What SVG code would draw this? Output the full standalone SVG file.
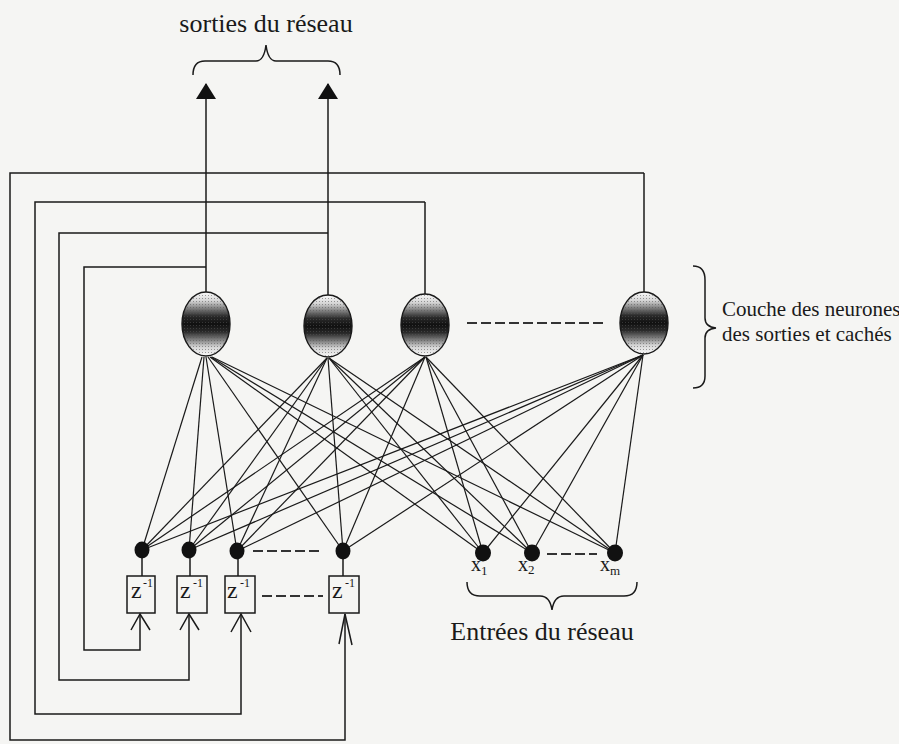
<svg xmlns="http://www.w3.org/2000/svg" width="899" height="744" viewBox="0 0 899 744">
  <defs>
    <linearGradient id="shade" x1="0" y1="0" x2="0" y2="1">
      <stop offset="0" stop-color="#fbfbfb"/>
      <stop offset="0.14" stop-color="#d4d4d4"/>
      <stop offset="0.26" stop-color="#7c7c7c"/>
      <stop offset="0.38" stop-color="#2a2a2a"/>
      <stop offset="0.5" stop-color="#101010"/>
      <stop offset="0.62" stop-color="#2a2a2a"/>
      <stop offset="0.74" stop-color="#7c7c7c"/>
      <stop offset="0.86" stop-color="#d4d4d4"/>
      <stop offset="1" stop-color="#fbfbfb"/>
    </linearGradient>
    <pattern id="dots" width="3" height="3" patternUnits="userSpaceOnUse">
      <rect x="1" y="1" width="1" height="1" fill="#555" opacity="0.55"/>
    </pattern>
    <marker id="head" viewBox="0 0 16 20" refX="15" refY="10" markerWidth="16" markerHeight="20" markerUnits="userSpaceOnUse" orient="auto">
      <path d="M0,0 L16,10 L0,20 z" fill="#111"/>
    </marker>
  </defs>
  <style>
    .wire { fill: none; stroke: #1a1a1a; stroke-width: 1.5; }
    .link { stroke: #1a1a1a; stroke-width: 1.2; }
    .dash { stroke: #333; stroke-width: 2; stroke-dasharray: 10 4; }
    .neuron { fill: url(#shade); stroke: #1a1a1a; stroke-width: 1.4; }
    .grain { fill: url(#dots); }
    .dot { fill: #111; }
    .box { fill: none; stroke: #1a1a1a; stroke-width: 1.5; }
    .txt { font-family: "Liberation Serif", "Times New Roman", serif; fill: #1a1a1a; }
    .brace { fill: none; stroke: #1a1a1a; stroke-width: 1.5; }
  </style>

  <rect width="899" height="744" fill="#f5f5f3"/>

  <!-- titles and braces -->
  <text class="txt" x="266" y="32" font-size="26" text-anchor="middle">sorties du réseau</text>
  <path class="brace" d="M193,75 Q193,61 205,61 H256 Q264,61 266,45 Q268,61 276,61 H328 Q340,61 340,75"/>

  <path class="brace" d="M693,266 Q705,266 705,280 V318 Q705,327 716,328 Q705,329 705,338 V376 Q705,388 693,388"/>
  <text class="txt" x="722" y="316" font-size="21">Couche des neurones</text>
  <text class="txt" x="722" y="341" font-size="21">des sorties et cachés</text>

  <path class="brace" d="M467,582 Q467,596 480,596 H540 Q550,596 552,610 Q554,596 564,596 H624 Q637,596 637,582"/>
  <text class="txt" x="542" y="640" font-size="26" text-anchor="middle">Entrées du réseau</text>

  <!-- connectors: outputs, feedback loops, weights -->
  <g id="connectors">
    <line class="wire" x1="206" y1="292" x2="206" y2="84" marker-end="url(#head)"/>
    <line class="wire" x1="328" y1="295" x2="328" y2="84" marker-end="url(#head)"/>
    <line class="wire" x1="425" y1="294" x2="425" y2="202"/>
    <line class="wire" x1="644" y1="292" x2="644" y2="173"/>

    <path class="wire" d="M206,267 H84 V650 H140 V614"/>
    <path class="wire" d="M328,233 H59 V680 H189 V614"/>
    <path class="wire" d="M425,202 H35 V714 H241 V614"/>
    <path class="wire" d="M644,173 H10 V740 H345 V614"/>

    <!-- open arrowheads into the delay boxes -->
    <path class="wire" d="M131,630 L140,614 L150,630"/>
    <path class="wire" d="M180,630 L189,614 L199,630"/>
    <path class="wire" d="M231,632 L241,614 L251,632"/>
    <path class="wire" d="M339,644 L345,614 L352,645"/>

    <!-- dot to delay box -->
    <line class="wire" x1="142" y1="556" x2="142" y2="576"/>
    <line class="wire" x1="190" y1="556" x2="190" y2="576"/>
    <line class="wire" x1="238" y1="557" x2="238" y2="576"/>
    <line class="wire" x1="343" y1="557" x2="343" y2="576"/>

    <!-- weights from every input node to every neuron -->
    <g>
      <line class="link" x1="202" y1="357" x2="142" y2="550"/>
      <line class="link" x1="204" y1="357" x2="189" y2="550"/>
      <line class="link" x1="206" y1="357" x2="237" y2="551"/>
      <line class="link" x1="208" y1="357" x2="343" y2="551"/>
      <line class="link" x1="210" y1="357" x2="483" y2="553"/>
      <line class="link" x1="211" y1="357" x2="532" y2="553"/>
      <line class="link" x1="212" y1="357" x2="615" y2="553"/>

      <line class="link" x1="327" y1="358" x2="142" y2="550"/>
      <line class="link" x1="327" y1="358" x2="189" y2="550"/>
      <line class="link" x1="327" y1="358" x2="237" y2="551"/>
      <line class="link" x1="328" y1="358" x2="343" y2="551"/>
      <line class="link" x1="329" y1="358" x2="483" y2="553"/>
      <line class="link" x1="329" y1="358" x2="532" y2="553"/>
      <line class="link" x1="329" y1="358" x2="615" y2="553"/>

      <line class="link" x1="425" y1="357" x2="142" y2="550"/>
      <line class="link" x1="425" y1="357" x2="189" y2="550"/>
      <line class="link" x1="425" y1="357" x2="237" y2="551"/>
      <line class="link" x1="425" y1="357" x2="343" y2="551"/>
      <line class="link" x1="426" y1="357" x2="483" y2="553"/>
      <line class="link" x1="426" y1="357" x2="532" y2="553"/>
      <line class="link" x1="426" y1="357" x2="615" y2="553"/>

      <line class="link" x1="643" y1="355" x2="142" y2="550"/>
      <line class="link" x1="643" y1="355" x2="189" y2="550"/>
      <line class="link" x1="643" y1="355" x2="237" y2="551"/>
      <line class="link" x1="643" y1="355" x2="343" y2="551"/>
      <line class="link" x1="643" y1="355" x2="483" y2="553"/>
      <line class="link" x1="643" y1="355" x2="532" y2="553"/>
      <line class="link" x1="643" y1="355" x2="615" y2="553"/>
    </g>

    <!-- ellipsis dashes -->
    <line class="dash" x1="467" y1="323" x2="604" y2="323"/>
    <line class="dash" x1="253" y1="551" x2="320" y2="551" stroke-dasharray="8 4"/>
    <line class="dash" x1="262" y1="596" x2="323" y2="596" stroke-dasharray="8 4"/>
    <line class="dash" x1="547" y1="554" x2="597" y2="554" stroke-dasharray="8 4"/>
  </g>

  <!-- neurons -->
  <g id="neuron-1"><ellipse class="neuron" cx="206" cy="324" rx="24" ry="32"/><ellipse class="grain" cx="206" cy="324" rx="23" ry="31"/></g>
  <g id="neuron-2"><ellipse class="neuron" cx="328" cy="326" rx="24" ry="31"/><ellipse class="grain" cx="328" cy="326" rx="23" ry="30"/></g>
  <g id="neuron-3"><ellipse class="neuron" cx="425" cy="325" rx="24" ry="31"/><ellipse class="grain" cx="425" cy="325" rx="23" ry="30"/></g>
  <g id="neuron-4"><ellipse class="neuron" cx="644" cy="323" rx="24" ry="31"/><ellipse class="grain" cx="644" cy="323" rx="23" ry="30"/></g>

  <!-- delayed feedback nodes -->
  <g id="feedback-1"><ellipse class="dot" cx="142" cy="550" rx="7.5" ry="8.5"/></g>
  <g id="feedback-2"><ellipse class="dot" cx="189" cy="550" rx="7.5" ry="8.5"/></g>
  <g id="feedback-3"><ellipse class="dot" cx="237" cy="551" rx="7.5" ry="8.5"/></g>
  <g id="feedback-4"><ellipse class="dot" cx="343" cy="551" rx="7.5" ry="8.5"/></g>

  <!-- delay operators -->
  <g id="delay-1"><rect class="box" x="127" y="576" width="28" height="37"/>
    <text class="txt" x="131" y="598" font-size="24">z</text><text class="txt" x="143" y="587" font-size="12">-1</text></g>
  <g id="delay-2"><rect class="box" x="177" y="576" width="30" height="37"/>
    <text class="txt" x="180" y="598" font-size="24">z</text><text class="txt" x="193" y="587" font-size="12">-1</text></g>
  <g id="delay-3"><rect class="box" x="225" y="576" width="30" height="37"/>
    <text class="txt" x="227" y="598" font-size="24">z</text><text class="txt" x="240" y="587" font-size="12">-1</text></g>
  <g id="delay-4"><rect class="box" x="329" y="576" width="30" height="37"/>
    <text class="txt" x="332" y="598" font-size="24">z</text><text class="txt" x="345" y="587" font-size="12">-1</text></g>

  <!-- external inputs -->
  <g id="input-1"><ellipse class="dot" cx="483" cy="553" rx="8" ry="8.5"/>
    <text class="txt" x="471" y="571" font-size="20">x<tspan font-size="13" dy="4">1</tspan></text></g>
  <g id="input-2"><ellipse class="dot" cx="532" cy="553" rx="8" ry="8.5"/>
    <text class="txt" x="518" y="571" font-size="20">x<tspan font-size="13" dy="3">2</tspan></text></g>
  <g id="input-m"><ellipse class="dot" cx="615" cy="553" rx="8" ry="8.5"/>
    <text class="txt" x="600" y="571" font-size="20">x<tspan font-size="13" dy="4">m</tspan></text></g>
</svg>
